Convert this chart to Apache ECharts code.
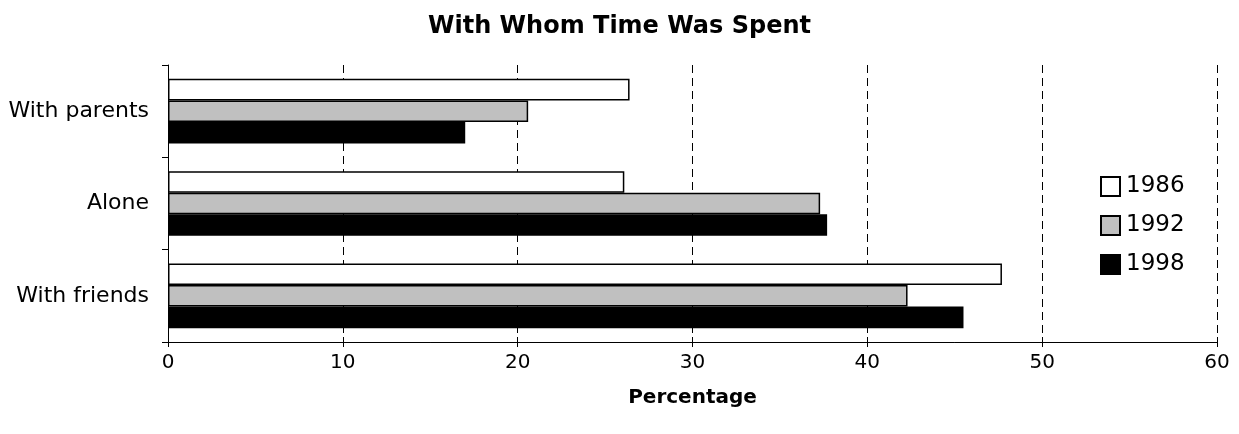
<!DOCTYPE html>
<html>
<head>
<meta charset="utf-8">
<script src="https://cdn.jsdelivr.net/npm/echarts@6/dist/echarts.min.js"></script>
<style>html,body{margin:0;padding:0;background:#fff}#c{width:1239px;height:434px}</style>
</head>
<body>
<div id="c"></div>
<script>
const categories = ['With parents', 'Alone', 'With friends'];
const seriesNames = ['1986', '1992', '1998'];
const values1986 = [26.4, 26.1, 47.7];
const values1992 = [20.6, 37.3, 42.3];
const values1998 = [17.0, 37.7, 45.5];
const xTicks = [0, 10, 20, 30, 40, 50, 60];

const FONT = '"DejaVu Sans", "Liberation Sans", Arial, sans-serif';
const fills = ['#ffffff', '#c0c0c0', '#000000'];
const allValues = [values1986, values1992, values1998];

const xMin = xTicks[0];
const xMax = xTicks[xTicks.length - 1];

const chart = echarts.init(document.getElementById('c'), null, {renderer: 'canvas'});
chart.setOption({
  animation: false,
  backgroundColor: '#fff',
  title: {
    text: 'With Whom Time Was Spent',
    left: 'center',
    top: 10,
    textStyle: {fontFamily: FONT, fontSize: 24, fontWeight: 'bold', color: '#000'}
  },
  legend: {
    orient: 'vertical',
    left: 1095,
    top: 170,
    itemWidth: 19,
    itemHeight: 19,
    itemGap: 16,
    icon: 'rect',
    textStyle: {fontFamily: FONT, fontSize: 23, color: '#000', padding: [0, 0, 0, 1]},
    data: seriesNames
  },
  grid: {left: 168, right: 22, top: 65, bottom: 92, containLabel: false},
  xAxis: [{
    type: 'value',
    min: xMin,
    max: xMax,
    interval: 10,
    name: 'Percentage',
    nameLocation: 'middle',
    nameGap: 46,
    nameTextStyle: {fontFamily: FONT, fontSize: 20, fontWeight: 'bold', color: '#000'},
    axisLine: {show: true, lineStyle: {color: '#000', width: 1}},
    axisTick: {show: true, length: 5, lineStyle: {color: '#000'}},
    axisLabel: {fontFamily: FONT, fontSize: 20, color: '#000', margin: 11},
    splitLine: {show: true, lineStyle: {color: '#000', type: [8, 5], width: 1}}
  }, {
    type: 'value',
    position: 'bottom',
    min: xMin,
    max: xMax,
    interval: 10,
    axisLine: {show: false},
    axisTick: {show: true, inside: true, length: 5, lineStyle: {color: '#000'}},
    axisLabel: {show: false},
    splitLine: {show: false}
  }],
  yAxis: {
    type: 'category',
    inverse: true,
    data: categories,
    axisLine: {show: true, lineStyle: {color: '#000', width: 1}},
    axisTick: {show: true, length: 6, lineStyle: {color: '#000'}},
    axisLabel: {fontFamily: FONT, fontSize: 22, color: '#000', margin: 19}
  },
  series: seriesNames.map((n, i) => ({
    name: n,
    type: 'bar',
    xAxisIndex: 0,
    data: allValues[i],
    barCategoryGap: '30%',
    barGap: '0%',
    itemStyle: {color: fills[i], borderColor: '#000', borderWidth: 1.5}
  }))
});
</script>
</body>
</html>
